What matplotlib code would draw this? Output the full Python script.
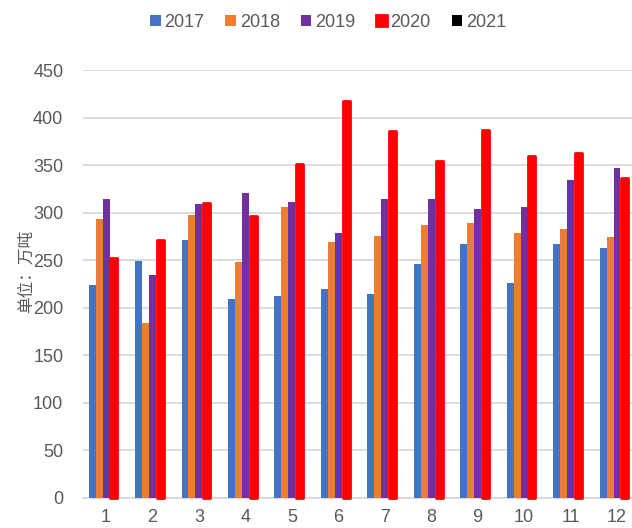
import numpy as np
import matplotlib.pyplot as plt

plt.rcParams['font.family'] = ['Liberation Sans', 'Noto Sans CJK SC']

months = ['1', '2', '3', '4', '5', '6', '7', '8', '9', '10', '11', '12']
years = ['2017', '2018', '2019', '2020', '2021']
v2017 = [224, 249, 271, 209, 212, 220, 215, 246, 267, 226, 267, 263]
v2018 = [293, 184, 298, 248, 306, 269, 276, 287, 289, 279, 283, 274]
v2019 = [315, 235, 309, 321, 311, 279, 315, 314, 304, 306, 335, 347]
v2020 = [252, 271, 310, 297, 351, 418, 386, 354, 387, 360, 363, 337]
v2021 = [0] * 12
colors = ['#4472C4', '#ED7D31', '#7030A0', '#FF0000', '#000000']

fig = plt.figure(figsize=(6.32, 5.28), dpi=100)
ax = fig.add_axes([0.131, 0.057, 0.882, 0.81])

x = np.arange(1, 13)
w = 0.15
series = [v2017, v2018, v2019, v2020, v2021]
for i, (vals, c, y) in enumerate(zip(series, colors, years)):
    off = (i - 2) * w
    if y == '2020':
        ax.bar(x + off + 0.02, vals, w, color=c, edgecolor=c, linewidth=2.0,
               joinstyle='round', label=y, clip_on=False, zorder=3)
    else:
        ax.bar(x + off, vals, w, color=c, label=y, zorder=3)

ax.set_xlim(0.5, 12.5)
ax.set_ylim(0, 450)
ax.set_yticks(range(0, 451, 50))
ax.set_xticks(x)
ax.set_xticklabels(months)
ax.yaxis.grid(True, color='#D9D9D9', linewidth=1.3, zorder=0)
ax.set_axisbelow(True)
for s in ['top', 'right', 'left']:
    ax.spines[s].set_visible(False)
ax.spines['bottom'].set_color('#D9D9D9')
ax.spines['bottom'].set_linewidth(1.3)
ax.tick_params(length=0, labelsize=13, colors='#595959', pad=8)
ax.tick_params(axis='y', pad=14)

ax.set_ylabel('单位：万吨', fontsize=12, color='#595959',
              family=['Noto Sans CJK SC'])
ax.yaxis.set_label_coords(-0.085, 0.53)

ax.legend(loc='upper center', bbox_to_anchor=(0.44, 1.17), ncol=5, frameon=False,
          fontsize=13, handlelength=0.6, handleheight=0.6, handletextpad=0.2,
          columnspacing=1.15, labelcolor='#595959')

fig.savefig('out.png', dpi=100)
